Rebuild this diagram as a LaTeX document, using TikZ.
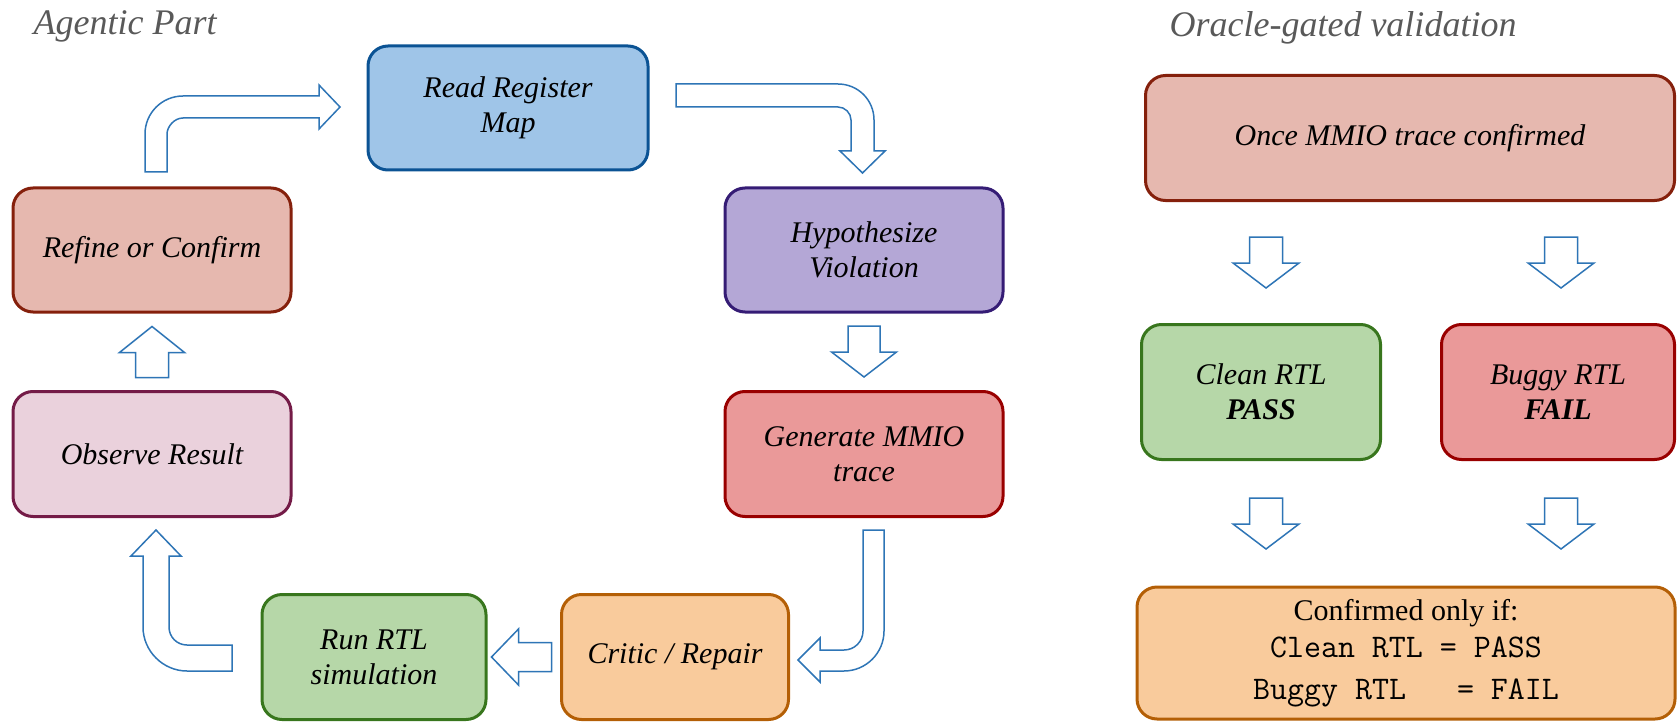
\documentclass[tikz,border=0pt]{standalone}
\usepackage{fontspec}
\setmainfont{Liberation Serif}
\usepackage{tikz}
\usetikzlibrary{calc}

\definecolor{arrowblue}{HTML}{2E75B6}
\definecolor{titlegray}{HTML}{595959}
\definecolor{blueF}{HTML}{9FC5E8}   \definecolor{blueD}{HTML}{0B5394}
\definecolor{purpleF}{HTML}{B4A7D6} \definecolor{purpleD}{HTML}{351C75}
\definecolor{redF}{HTML}{EA9999}    \definecolor{redD}{HTML}{990000}
\definecolor{orangeF}{HTML}{F9CB9C} \definecolor{orangeD}{HTML}{B45F06}
\definecolor{greenF}{HTML}{B6D7A8}  \definecolor{greenD}{HTML}{38761D}
\definecolor{pinkF}{HTML}{EAD1DC}   \definecolor{pinkD}{HTML}{741B47}
\definecolor{roseF}{HTML}{E6B8AF}   \definecolor{roseD}{HTML}{85200C}

% straight block arrow: tip, angle, length, shaft half, head half, head length
\newcommand{\blockarrow}[6]{%
  \draw[barrow, shift={#1}, rotate=#2] (0,0) -- (-#6,#5) -- (-#6,#4) -- (-#3,#4)
    -- (-#3,-#4) -- (-#6,-#4) -- (-#6,-#5) -- cycle;}

\begin{document}
\begin{tikzpicture}[x=1pt, y=-1pt,
    box/.style={draw, rounded corners=20pt, line width=3pt, align=center, inner sep=0pt,
      font=\itshape\fontsize{30}{35}\selectfont},
    barrow/.style={draw=arrowblue, fill=white, line width=1.5pt, line join=miter},
    title/.style={anchor=base west, text=titlegray, font=\itshape\fontsize{36}{40}\selectfont}]
    \useasboundingbox (0,0) rectangle (1677,722);

    % Titles
    \node[title] (agtitle) at (30,35) {Agentic Part};
    \node[title] (ortitle) at (1166,37) {Oracle-gated validation};

    % Agentic loop
    \node[box, fill=blueF, draw=blueD, minimum width=280, minimum height=124] (read) at (508,108) {Read Register\\Map};
    \node[box, fill=purpleF, draw=purpleD, minimum width=278, minimum height=124] (hyp) at (864,250) {Hypothesize\\Violation};
    \node[box, fill=redF, draw=redD, minimum width=278, minimum height=125] (gen) at (864,454) {Generate MMIO\\trace};
    \node[box, fill=orangeF, draw=orangeD, minimum width=227, minimum height=125] (critic) at (675,657) {Critic / Repair};
    \node[box, fill=greenF, draw=greenD, minimum width=224, minimum height=125] (run) at (374,657) {Run RTL\\simulation};
    \node[box, fill=pinkF, draw=pinkD, minimum width=278, minimum height=125] (observe) at (152,454) {Observe Result};
    \node[box, fill=roseF, draw=roseD, minimum width=278, minimum height=124] (refine) at (152,250) {Refine or Confirm};

    % Oracle-gated validation
    \node[box, fill=roseF, draw=roseD, minimum width=529, minimum height=125] (once) at (1410,138) {Once MMIO trace confirmed};
    \node[box, fill=greenF, draw=greenD, minimum width=239, minimum height=135] (clean) at (1261,392) {Clean RTL\\\textbf{PASS}};
    \node[box, fill=redF, draw=redD, minimum width=233, minimum height=135] (buggy) at (1558,392) {Buggy RTL\\\textbf{FAIL}};
    \node[box, fill=orangeF, draw=orangeD, minimum width=538, minimum height=132,
      font=\fontsize{30}{37}\selectfont] (final) at (1406,653)
      {Confirmed only if:\\{\ttfamily\fontsize{33}{37}\selectfont Clean RTL = PASS}\\[5pt]
       {\ttfamily\fontsize{33}{37}\selectfont Buggy RTL\ \ \ = FAIL}};

    % Bent arrows
    \draw[barrow] (145,172) -- (145,134) .. controls (145,113) and (162,96) .. (183,96)
      -- (319,96) -- (319,85) -- (340,107) -- (319,129) -- (319,118) -- (183,118)
      .. controls (174,118) and (167,127) .. (167,134) -- (167,172) -- cycle;
    \draw[barrow] (676,84) -- (838,84) .. controls (858,84) and (874,100) .. (874,120)
      -- (874,151) -- (885,151) -- (862.5,173) -- (840,151) -- (851,151) -- (851,120)
      .. controls (851,113) and (845,107) .. (838,107) -- (676,107) -- cycle;
    \draw[barrow] (863,530) -- (884,530) -- (884,631) .. controls (884,653) and (866,671) .. (844,671)
      -- (820,671) -- (820,682) -- (798,660) -- (820,638) -- (820,650) -- (844,650)
      .. controls (854.5,650) and (863,641.5) .. (863,631) -- cycle;
    \draw[barrow] (232,645) -- (187,645) .. controls (177,645) and (169,637) .. (169,627)
      -- (169,556) -- (181,556) -- (156,530) -- (131,556) -- (143,556) -- (143,627)
      .. controls (143,651) and (163,671) .. (187,671) -- (232,671) -- cycle;

    % Straight arrows
    \blockarrow{($(gen.north)+(0,-13)$)}{-90}{51}{16}{32.5}{25}
    \blockarrow{($(refine.south)+(0,13)$)}{90}{51}{16.5}{32.5}{26}
    \blockarrow{($(run.east)+(4,0)$)}{180}{60}{14.5}{28}{27}
    \blockarrow{($(clean.north)+(5,-35)$)}{-90}{51}{16.5}{33}{25}
    \blockarrow{($(buggy.north)+(3,-35)$)}{-90}{51}{16.5}{33}{25}
    \blockarrow{($(clean.south)+(5,88)$)}{-90}{51}{16.5}{33}{25}
    \blockarrow{($(buggy.south)+(3,88)$)}{-90}{51}{16.5}{33}{25}

\end{tikzpicture}
\end{document}
